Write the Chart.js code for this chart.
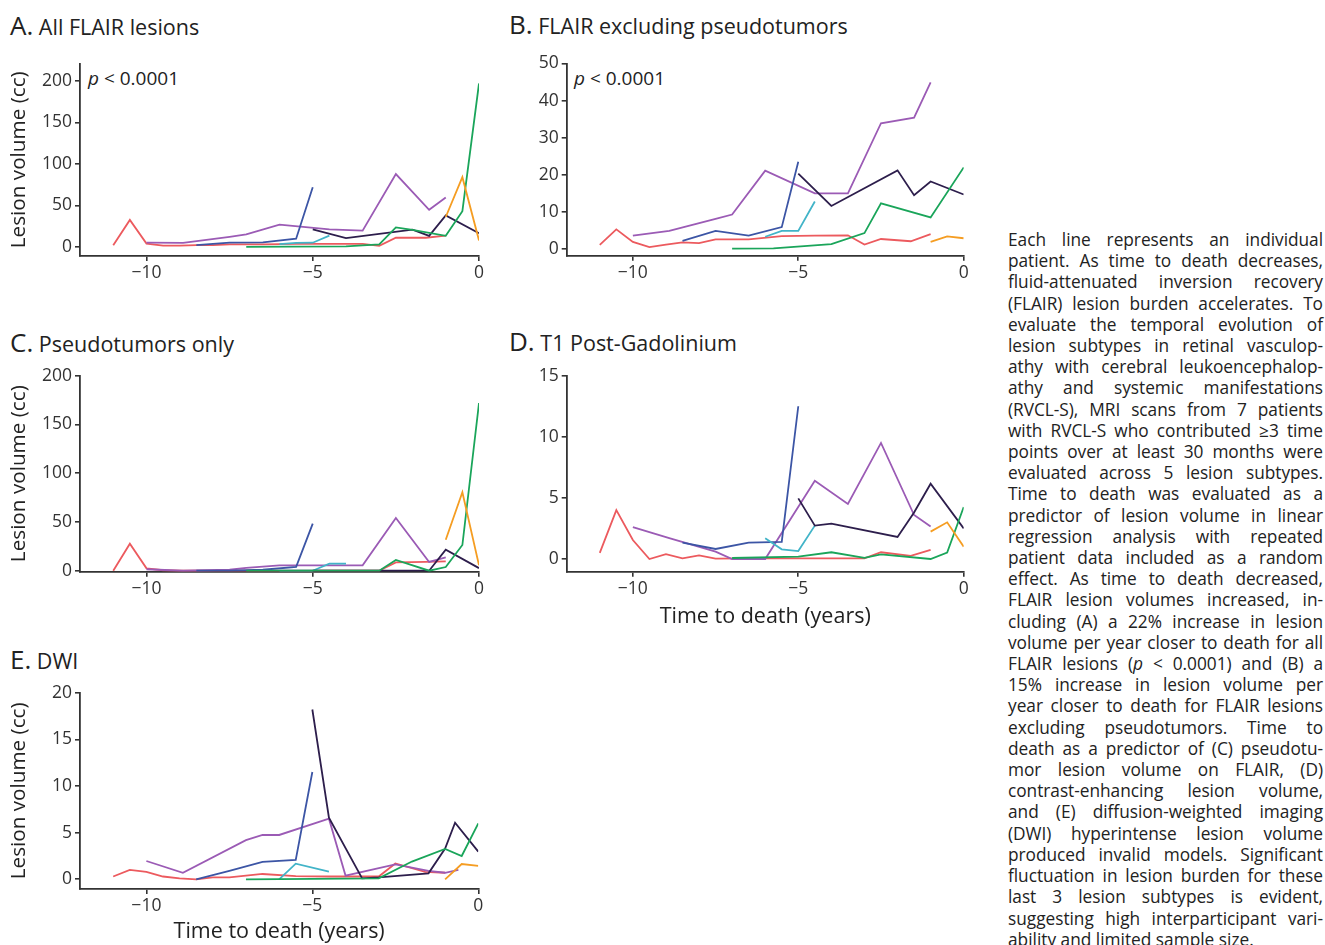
<!DOCTYPE html>
<html>
<head>
<meta charset="utf-8">
<script src="https://cdn.jsdelivr.net/npm/chart.js@4.4.0/dist/chart.umd.min.js"></script>
<style>
body { margin:0; width:1325px; height:945px; overflow:hidden; background:#fff; font-family:'Open Sans', sans-serif; color:#222; position:relative; }
canvas { position:absolute; }
.titulo { position:absolute; white-space:nowrap; font-size:21.5px; line-height:30px; }
.titulo span { font-size:26px; }
.pval { position:absolute; font-size:19px; line-height:22px; color:#222; white-space:nowrap; }
#legenda { position:absolute; left:1008px; top:229px; width:315px; font-size:17.3px; line-height:21.2px; color:#222; }
#legenda div { text-align:justify; text-align-last:justify; white-space:nowrap; }
#legenda div.ultima { text-align-last:left; }
</style>
</head>
<body>

<div class="titulo" style="left:10px;top:10px"><span>A.</span> All FLAIR lesions</div>
<div class="titulo" style="left:509px;top:9px"><span>B.</span> FLAIR excluding pseudotumors</div>
<div class="titulo" style="left:10px;top:327px"><span>C.</span> Pseudotumors only</div>
<div class="titulo" style="left:509px;top:326px"><span>D.</span> T1 Post-Gadolinium</div>
<div class="titulo" style="left:10px;top:644px"><span>E.</span> DWI</div>

<div class="pval" style="left:88px;top:67px"><i>p</i> &lt; 0.0001</div>
<div class="pval" style="left:574px;top:67px"><i>p</i> &lt; 0.0001</div>

<canvas id="graficoA" width="490" height="260" style="left:0;top:50px"></canvas>
<canvas id="graficoB" width="480" height="260" style="left:495px;top:50px"></canvas>
<canvas id="graficoC" width="490" height="250" style="left:0;top:360px"></canvas>
<canvas id="graficoD" width="480" height="280" style="left:495px;top:360px"></canvas>
<canvas id="graficoE" width="490" height="270" style="left:0;top:675px"></canvas>

<div id="legenda"></div>

<script>
// --- Dados (tempo até o óbito em anos, volume em cc) ---
// null = sem ponto naquele painel

const xTicks = [-10, -5, 0];
const yTicksA = [0, 50, 100, 150, 200];
const yTicksB = [0, 10, 20, 30, 40, 50];
const yTicksC = [0, 50, 100, 150, 200];
const yTicksD = [0, 5, 10, 15];
const yTicksE = [0, 5, 10, 15, 20];

// paciente vermelho
const tempoVermelho = [-11, -10.5, -10, -9.5, -9, -8.5, -8, -7.5, -6.5, -5.5, -4.5, -3.5, -3, -2.5, -1.6, -1];
const vermelhoA = [2, 32.5, 4, 1.5, 1.5, 2, 2, 3, 3, 3.5, 3.6, 3.7, 1.2, 11, 11, 13.5];
const vermelhoB = [1.1, 5.3, 1.9, 0.5, 1.2, 1.8, 1.6, 2.6, 2.6, 3.5, 3.6, 3.7, 1.2, 2.7, 2.1, 4.0];
const vermelhoC = [0, 27.7, 2.5, 0.5, 0, 0, 0, 0, 0, 0, 0, 0, 0, 8.6, 9, 9.6];
const vermelhoD = [0.5, 4.0, 1.55, 0, 0.4, 0.05, 0.3, 0.03, 0.05, 0.05, 0.05, 0.05, 0.05, 0.55, 0.25, 0.75];
const vermelhoE = [0.3, 1.0, 0.8, 0.3, 0.1, 0, 0.2, 0.2, 0.57, 0.35, 0.3, 0.3, 0.3, 1.7, 0.8, 0.7];

// paciente roxo
const tempoRoxo = [-10, -8.9, -7.5, -7, -6.5, -6, -4.5, -4, -3.5, -2.5, -1.5, -1, -0.6];
const roxoA = [5, 4.7, 12, 15, null, 26.7, 21, null, 19.6, 87.8, 44.7, 59.6, null];
const roxoB = [3.6, 4.9, 8.1, 9.3, null, 21.1, 15.0, null, 15.0, 33.9, 35.4, 44.9, null];
const roxoC = [1.5, 0, 1, 3, null, 5.5, 5.5, null, 5.5, 54, 9, 13.7, null];
const roxoD = [2.6, 1.7, 0.6, 0, null, 0, 6.4, null, 4.5, 9.5, 3.6, 2.65, null];
const roxoE = [1.96, 0.7, null, 4.2, 4.75, 4.75, 6.5, 0.4, null, 1.6, 0.9, 0.7, 1.0];

// paciente azul
const tempoAzul = [-8.5, -7.5, -6.5, -5.5, -5];
const azulA = [2.2, 5, 5.5, 9.8, 71.8];
const azulB = [2.2, 4.9, 3.6, 5.9, 23.5];
const azulC = [0, 0, 1, 4, 48.3];
const azulD = [1.34, 0.82, 1.34, 1.4, 12.5];
const azulE = [0, 0.9, 1.86, 2.07, 11.5];

// paciente ciano
const tempoCiano = [-6, -5.5, -5, -4.5, -4];
const cianoA = [3.3, 4.9, 5, 13.5, null];
const cianoB = [3.3, 4.9, 4.9, 12.8, null];
const cianoC = [0, 0, 0, 7.2, 7.2];
const cianoD = [1.69, 0.79, 0.65, 2.73, null];
const cianoE = [0, 1.68, null, 0.82, null];

// paciente azul-escuro
const tempoEscuro = [-5, -4.5, -4, -3.5, -3, -2, -1.5, -1, -0.7, 0];
const escuroA = [21, null, 10.6, null, null, 20.8, 13.3, 38, null, 16.5];
const escuroB = [20.3, null, 11.6, null, null, 21.2, 14.5, 18.2, null, 14.7];
const escuroC = [0, null, 0, null, null, 0, 0, 21.6, null, 2.7];
const escuroD = [4.96, 2.73, 2.89, null, null, 1.8, 3.8, 6.16, null, 2.5];
const escuroE = [18.2, 6.6, null, 0.1, 0.2, null, 0.64, 3.3, 6.07, 2.96];

// paciente verde
const tempoVerde = [-7, -5.75, -5, -4, -3, -2.5, -2, -1.5, -1, -0.5, 0];
const verdeA = [0, 0.3, null, 0.5, 3.1, 23.5, 20.4, null, 13.3, 43, 197];
const verdeB = [0.1, 0.2, null, 1.3, 4.3, 12.3, null, null, 8.5, null, 22.0];
const verdeC = [0, null, null, 0, 0, 11, null, 0, 3.8, 26.4, 172];
const verdeD = [0.08, null, 0.19, 0.55, 0.1, 0.38, null, null, 0, 0.52, 4.25];
const verdeE = [0, null, 0.05, null, 0.1, null, 1.9, null, 3.25, 2.5, 6.0];

// paciente laranja
const tempoLaranja = [-1, -0.5, 0];
const laranjaA = [36, 84, 7.8];
const laranjaB = [1.9, 3.4, 2.9];
const laranjaC = [31.8, 80.5, 5.5];
const laranjaD = [2.24, 3.0, 1.0];
const laranjaE = [0, 1.64, 1.43];

const cores = {
    vermelho: '#ec5a5e',
    roxo: '#9b5bb5',
    azul: '#3c55a5',
    ciano: '#42b4c8',
    escuro: '#2d1e4c',
    verde: '#1aa55a',
    laranja: '#f59d22'
};

const linhasLegenda = [
    'Each line represents an individual',
    'patient. As time to death decreases,',
    'fluid-attenuated inversion recovery',
    '(FLAIR) lesion burden accelerates. To',
    'evaluate the temporal evolution of',
    'lesion subtypes in retinal vasculop-',
    'athy with cerebral leukoencephalop-',
    'athy and systemic manifestations',
    '(RVCL-S), MRI scans from 7 patients',
    'with RVCL-S who contributed \u22653 time',
    'points over at least 30 months were',
    'evaluated across 5 lesion subtypes.',
    'Time to death was evaluated as a',
    'predictor of lesion volume in linear',
    'regression analysis with repeated',
    'patient data included as a random',
    'effect. As time to death decreased,',
    'FLAIR lesion volumes increased, in-',
    'cluding (A) a 22% increase in lesion',
    'volume per year closer to death for all',
    'FLAIR lesions (<i>p</i> &lt; 0.0001) and (B) a',
    '15% increase in lesion volume per',
    'year closer to death for FLAIR lesions',
    'excluding pseudotumors. Time to',
    'death as a predictor of (C) pseudotu-',
    'mor lesion volume on FLAIR, (D)',
    'contrast-enhancing lesion volume,',
    'and (E) diffusion-weighted imaging',
    '(DWI) hyperintense lesion volume',
    'produced invalid models. Significant',
    'fluctuation in lesion burden for these',
    'last 3 lesion subtypes is evident,',
    'suggesting high interparticipant vari-',
    'ability and limited sample size.'
];

// --- Montagem dos gráficos ---

Chart.defaults.font.family = "'Open Sans', sans-serif";
Chart.defaults.color = '#333';

function serie(tempos, valores, cor) {
    const pontos = tempos.map((t, i) => ({ x: t, y: valores[i] })).filter(p => p.y !== null);
    return {
        data: pontos,
        showLine: true,
        borderColor: cor,
        backgroundColor: cor,
        borderWidth: 1.8,
        pointRadius: 0,
        tension: 0
    };
}

function criarPainel(id, caixa, area, yMin, yMax, yTicks, series, tituloY, tituloX, padTituloX) {
    const larguraY = area.l - caixa.l;
    const alturaX = caixa.t + caixa.h - area.b;
    const ctx = document.getElementById(id).getContext('2d');
    return new Chart(ctx, {
        type: 'scatter',
        data: { datasets: series },
        options: {
            responsive: false,
            animation: false,
            devicePixelRatio: 1,
            layout: { padding: { top: area.t - caixa.t, right: caixa.l + caixa.w - area.r, left: 0, bottom: 0 } },
            plugins: { legend: { display: false }, tooltip: { enabled: false } },
            scales: {
                x: {
                    type: 'linear', min: -12, max: 0,
                    afterBuildTicks: ax => { ax.ticks = xTicks.map(v => ({ value: v })); },
                    afterFit: ax => { ax.height = alturaX; },
                    grid: { drawOnChartArea: false, tickLength: 5, color: '#333', lineWidth: 1.6 },
                    border: { color: '#333', width: 1.8 },
                    ticks: { font: { size: 17.5 }, color: '#333', padding: 2, maxRotation: 0,
                        callback: v => String(v).replace('-', '\u2212') },
                    title: { display: !!tituloX, text: tituloX || '', font: { size: 21.5 }, color: '#222',
                        padding: { top: 0, bottom: padTituloX || 0 } }
                },
                y: {
                    type: 'linear', min: yMin, max: yMax,
                    afterBuildTicks: ax => { ax.ticks = yTicks.map(v => ({ value: v })); },
                    afterFit: ax => { ax.width = larguraY; },
                    grid: { drawOnChartArea: false, tickLength: 5, color: '#333', lineWidth: 1.6 },
                    border: { color: '#333', width: 1.8 },
                    ticks: { font: { size: 17.5 }, color: '#333', padding: 3 },
                    title: { display: !!tituloY, text: tituloY || '', font: { size: 20.7 }, color: '#222',
                        padding: { top: 7, bottom: 0 } }
                }
            }
        }
    });
}

document.addEventListener('DOMContentLoaded', () => {
    const tituloY = 'Lesion volume (cc)';
    const tituloX = 'Time to death (years)';

    criarPainel('graficoA', { l: 0, t: 50, w: 490, h: 260 }, { l: 80, t: 59, r: 479, b: 256 },
        -11, 221, yTicksA, [
            serie(tempoLaranja, laranjaA, cores.laranja),
            serie(tempoVerde, verdeA, cores.verde),
            serie(tempoEscuro, escuroA, cores.escuro),
            serie(tempoCiano, cianoA, cores.ciano),
            serie(tempoAzul, azulA, cores.azul),
            serie(tempoRoxo, roxoA, cores.roxo),
            serie(tempoVermelho, vermelhoA, cores.vermelho)
        ], tituloY, null);

    criarPainel('graficoB', { l: 495, t: 50, w: 480, h: 260 }, { l: 566.7, t: 60, r: 963.7, b: 255.7 },
        -1.8, 50, yTicksB, [
            serie(tempoLaranja, laranjaB, cores.laranja),
            serie(tempoVerde, verdeB, cores.verde),
            serie(tempoEscuro, escuroB, cores.escuro),
            serie(tempoCiano, cianoB, cores.ciano),
            serie(tempoAzul, azulB, cores.azul),
            serie(tempoRoxo, roxoB, cores.roxo),
            serie(tempoVermelho, vermelhoB, cores.vermelho)
        ], null, null);

    criarPainel('graficoC', { l: 0, t: 360, w: 490, h: 250 }, { l: 80, t: 375.7, r: 479, b: 571.7 },
        -1, 200, yTicksC, [
            serie(tempoLaranja, laranjaC, cores.laranja),
            serie(tempoVerde, verdeC, cores.verde),
            serie(tempoEscuro, escuroC, cores.escuro),
            serie(tempoCiano, cianoC, cores.ciano),
            serie(tempoAzul, azulC, cores.azul),
            serie(tempoRoxo, roxoC, cores.roxo),
            serie(tempoVermelho, vermelhoC, cores.vermelho)
        ], tituloY, null);

    criarPainel('graficoD', { l: 495, t: 360, w: 480, h: 280 }, { l: 566.7, t: 375.7, r: 963.7, b: 571.7 },
        -1.04, 15, yTicksD, [
            serie(tempoLaranja, laranjaD, cores.laranja),
            serie(tempoVerde, verdeD, cores.verde),
            serie(tempoEscuro, escuroD, cores.escuro),
            serie(tempoCiano, cianoD, cores.ciano),
            serie(tempoAzul, azulD, cores.azul),
            serie(tempoRoxo, roxoD, cores.roxo),
            serie(tempoVermelho, vermelhoD, cores.vermelho)
        ], null, tituloX, 10);

    criarPainel('graficoE', { l: 0, t: 675, w: 490, h: 270 }, { l: 80, t: 692.7, r: 478.3, b: 889 },
        -1.04, 20, yTicksE, [
            serie(tempoLaranja, laranjaE, cores.laranja),
            serie(tempoVerde, verdeE, cores.verde),
            serie(tempoEscuro, escuroE, cores.escuro),
            serie(tempoCiano, cianoE, cores.ciano),
            serie(tempoAzul, azulE, cores.azul),
            serie(tempoRoxo, roxoE, cores.roxo),
            serie(tempoVermelho, vermelhoE, cores.vermelho)
        ], tituloY, tituloX, 0);

    // Legenda (texto justificado linha a linha)
    const legenda = document.getElementById('legenda');
    linhasLegenda.forEach((linha, i) => {
        const div = document.createElement('div');
        if (i === linhasLegenda.length - 1) div.className = 'ultima';
        const span = document.createElement('span');
        span.innerHTML = linha;
        div.appendChild(span);
        legenda.appendChild(div);
        // aperta o espaçamento se a linha não couber na largura
        const w = span.getBoundingClientRect().width;
        if (w > 314) {
            div.style.letterSpacing = ((314 - w) / linha.length).toFixed(3) + 'px';
        }
        div.innerHTML = linha;
    });
});
</script>
</body>
</html>
